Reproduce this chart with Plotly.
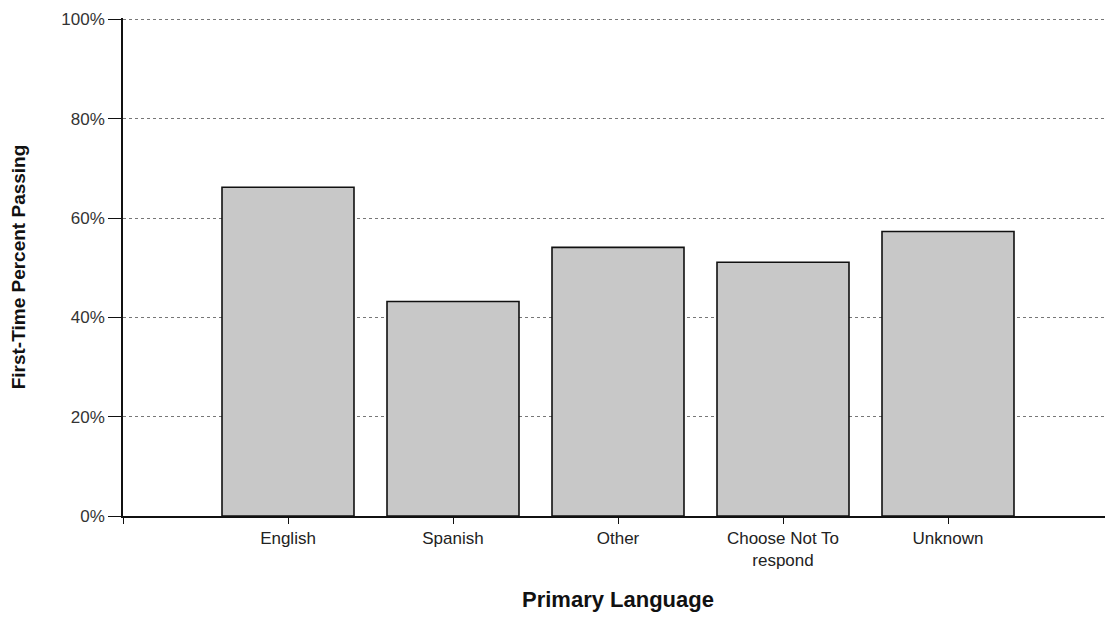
import plotly.graph_objects as go

categories = ["English", "Spanish", "Other", "Choose Not To<br>respond", "Unknown"]
values = [66.2, 43.2, 54.1, 51.1, 57.3]
y_ticks = [0, 20, 40, 60, 80, 100]
y_tick_labels = ["0%", "20%", "40%", "60%", "80%", "100%"]

positions = list(range(len(categories)))

fig = go.Figure(go.Bar(
    x=positions,
    y=values,
    width=0.8,
    marker=dict(color="#c8c8c8", line=dict(color="#111111", width=1.6)),
    hoverinfo="skip",
))

font_family = "Liberation Sans, Arial, sans-serif"

fig.update_layout(
    width=1113, height=617,
    margin=dict(l=115, r=8, t=10, b=109),
    paper_bgcolor="white", plot_bgcolor="white",
    showlegend=False,
    font=dict(family=font_family, color="#222222", size=17),
    xaxis=dict(
        range=[-1, 5],
        tickvals=[-1] + positions,
        ticktext=[""] + categories,
        ticks="outside", ticklen=6, tickcolor="#111111", tickwidth=1.3,
        showline=True, linecolor="#111111", linewidth=1.6,
        showgrid=False, zeroline=False, automargin=False,
        tickfont=dict(size=17, family=font_family, color="#222222"),
        title=dict(text="<b>Primary Language</b>", font=dict(size=22, family=font_family, color="#111111"), standoff=22),
    ),
    yaxis=dict(
        range=[0, 100.3],
        tickvals=y_ticks,
        ticktext=y_tick_labels,
        ticks="outside", ticklen=13, tickcolor="#111111", tickwidth=1.3,
        showline=True, linecolor="#111111", linewidth=1.6,
        showgrid=True, gridcolor="#777777", griddash="dot", gridwidth=1,
        zeroline=False, automargin=False,
        tickfont=dict(size=17, family=font_family, color="#333333"),
        title=dict(text="<b>First-Time Percent Passing</b>", font=dict(size=19, family=font_family, color="#111111"), standoff=32),
    ),
)

fig.write_html("out.html")
